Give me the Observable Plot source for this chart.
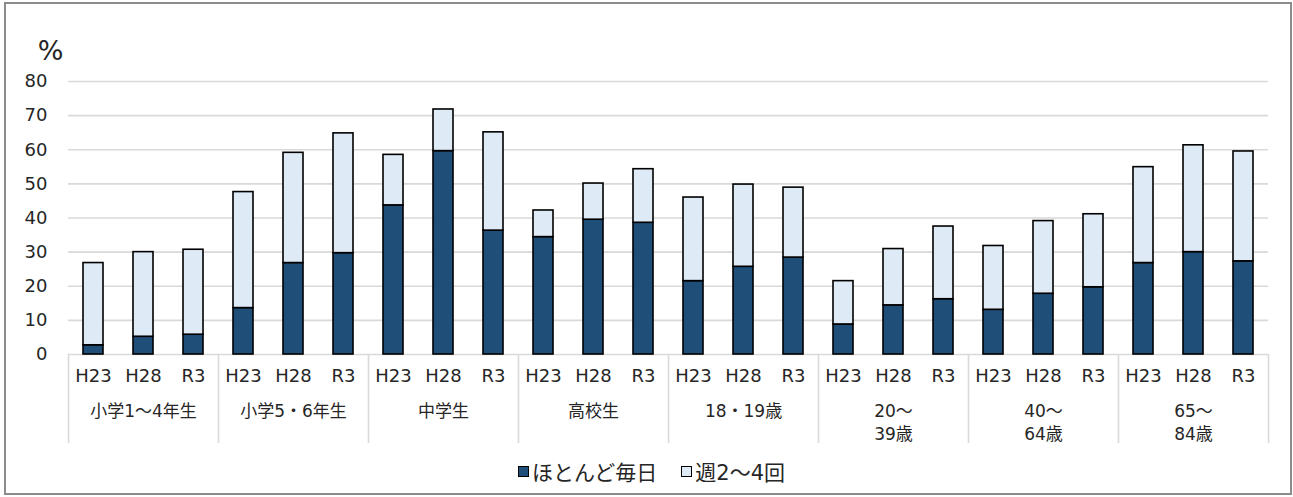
<!DOCTYPE html>
<html>
<head>
<meta charset="utf-8">
<script src="https://cdn.jsdelivr.net/npm/d3@7"></script>
<script src="https://cdn.jsdelivr.net/npm/@observablehq/plot@0.6"></script>
<style>
  html, body { margin: 0; padding: 0; background: #fff; }
  #wrap { position: relative; width: 1293px; height: 497px; overflow: hidden; font-family: "DejaVu Sans", "Noto Sans CJK JP", sans-serif; }
  #frame { position: absolute; left: 4px; top: 2px; width: 1288px; height: 493px; box-sizing: border-box; border: 2px solid #8c8c8c; pointer-events: none; }
  #chart { position: absolute; left: 0; top: 0; }
  #legend { position: absolute; left: 0; top: 456px; width: 1293px; display: flex; justify-content: center; align-items: center; font-size: 21px; color: #262626; padding-left: 10px; box-sizing: border-box; }
  .item { display: flex; align-items: center; margin: 0 12px; }
  .sw { width: 9px; height: 9px; border: 1px solid #000; margin-right: 3px; }
</style>
</head>
<body>
<div id="wrap">
  <div id="chart"></div>
  <div id="legend"></div>
  <div id="frame"></div>
</div>
<script>
// ---- data ----
const groups = ["小学1～4年生", "小学5・6年生", "中学生", "高校生", "18・19歳", "20～\n39歳", "40～\n64歳", "65～\n84歳"];
const years = ["H23", "H28", "R3"];
const seriesNames = ["ほとんど毎日", "週2～4回"];
const seriesColors = ["#1f4e79", "#deeaf6"];
// ほとんど毎日 (%), in order group × year
const daily = [2.7, 5.2, 5.8, 13.6, 26.8, 29.7, 43.7, 59.6, 36.3, 34.4, 39.5, 38.6,
               21.5, 25.7, 28.4, 8.8, 14.4, 16.2, 13.1, 17.8, 19.7, 26.8, 30.0, 27.3];
// 週2～4回 (%)
const weekly = [24.1, 24.8, 24.9, 34.0, 32.3, 35.1, 14.8, 12.2, 28.8, 7.8, 10.6, 15.7,
                24.5, 24.1, 20.5, 12.7, 16.5, 21.3, 18.7, 21.3, 21.4, 28.1, 31.3, 32.2];
const yTicks = [0, 10, 20, 30, 40, 50, 60, 70, 80];

// ---- build table ----
const keyOf = (g, y) => g + "|" + y;
const keys = groups.flatMap(g => years.map(y => keyOf(g, y)));
const rows = [
  ...keys.map((k, i) => ({key: k, series: seriesNames[0], value: daily[i]})),
  ...keys.map((k, i) => ({key: k, series: seriesNames[1], value: weekly[i]}))
];
const firstKeys = groups.map(g => keyOf(g, years[0]));
const lastKey = keys[keys.length - 1];
const midKeys = groups.map(g => ({key: keyOf(g, years[1]), label: g}));

const textColor = "#262626";
const gridColor = "#d9d9d9";
const latin = '"DejaVu Sans", "Noto Sans CJK JP", sans-serif';

const chart = Plot.plot({
  width: 1293,
  height: 450,
  marginLeft: 68,
  marginRight: 25,
  marginTop: 81,
  marginBottom: 96,
  style: {fontFamily: latin, fontSize: "18px", color: textColor, background: "transparent"},
  x: {type: "band", domain: keys, padding: 0, axis: null},
  y: {domain: [0, 80], axis: null},
  color: {domain: seriesNames, range: seriesColors},
  marks: [
    Plot.ruleY(yTicks, {stroke: gridColor, strokeWidth: 1.6}),
    Plot.axisY({ticks: yTicks, tickSize: 0, tickPadding: 21, fontSize: 18, label: null, fill: textColor}),
    Plot.text(["%"], {frameAnchor: "top-left", dx: -18, dy: -41, fontSize: 27, textAnchor: "middle", fill: textColor}),
    Plot.barY(rows, {x: "key", y: "value", fill: "series", stroke: "#000", strokeWidth: 1.6, insetLeft: 15, insetRight: 15}),
    Plot.axisX({tickSize: 0, tickPadding: 15, tickFormat: k => k.split("|")[1], fontSize: 18, label: null, fill: textColor}),
    Plot.axisX({ticks: firstKeys, tickSize: 89, tickFormat: () => "", dx: -25, stroke: gridColor, strokeWidth: 1.6, label: null}),
    Plot.axisX({ticks: [lastKey], tickSize: 89, tickFormat: () => "", dx: 25, stroke: gridColor, strokeWidth: 1.6, label: null}),
    Plot.text(midKeys, {x: "key", text: "label", frameAnchor: "bottom", lineAnchor: "top", dy: 46, lineHeight: 1.355, fontSize: 17, fill: textColor})
  ]
});
document.getElementById("chart").appendChild(chart);

// ---- legend ----
const legend = document.getElementById("legend");
seriesNames.forEach((name, i) => {
  const item = document.createElement("div");
  item.className = "item";
  const sw = document.createElement("span");
  sw.className = "sw";
  sw.style.background = seriesColors[i];
  const t = document.createElement("span");
  t.textContent = name;
  item.appendChild(sw);
  item.appendChild(t);
  legend.appendChild(item);
});
</script>
</body>
</html>
